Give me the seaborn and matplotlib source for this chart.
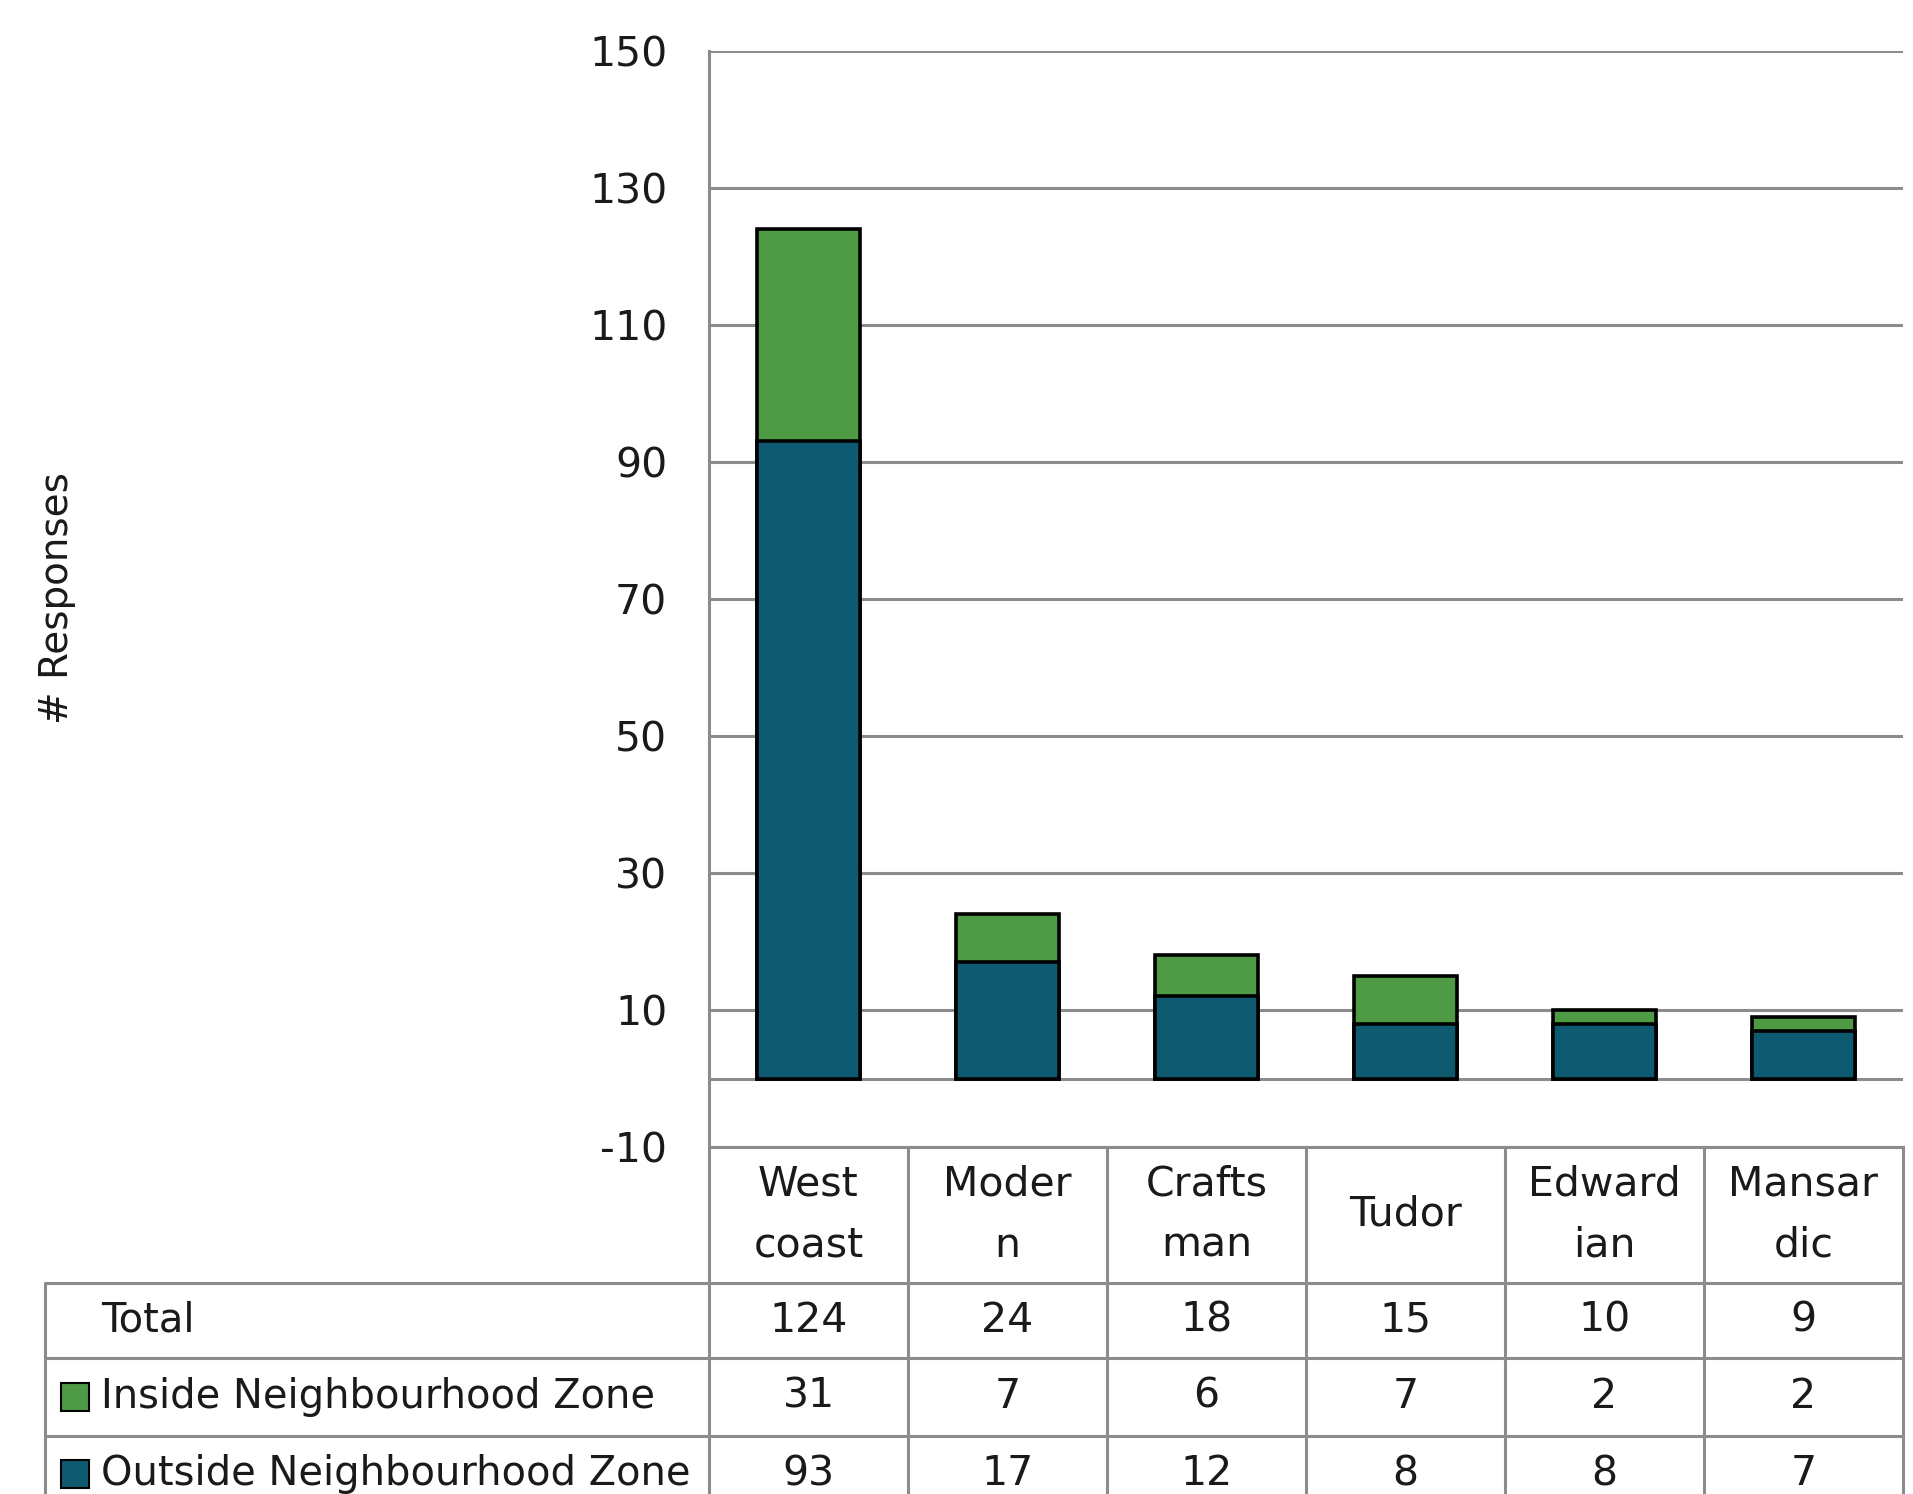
import numpy as np
import pandas as pd
import matplotlib
matplotlib.use("Agg")
import matplotlib.pyplot as plt
import seaborn as sns
from matplotlib.patches import Rectangle

# ------------------------------------------------------------
# Datos
# ------------------------------------------------------------
categories = ["West coast", "Modern", "Craftsman", "Tudor", "Edwardian", "Mansardic"]
header_labels = ["West\ncoast", "Moder\nn", "Crafts\nman", "Tudor", "Edward\nian", "Mansar\ndic"]
inside = [31, 7, 6, 7, 2, 2]
outside = [93, 17, 12, 8, 8, 7]
total = [124, 24, 18, 15, 10, 9]
row_labels = ["Total", "Inside Neighbourhood Zone", "Outside Neighbourhood Zone"]
yticks = [-10, 10, 30, 50, 70, 90, 110, 130, 150]

GREEN = "#4F9A45"
TEAL = "#0E5A70"
GRID = "#8C8C8C"
FS = 29.5
FS_ROW = 28.8

# ------------------------------------------------------------
# Layout (pixeles)
# ------------------------------------------------------------
W, H = 1913, 1494
X_LEFT, X_RIGHT = 709, 1903
Y_TOP, Y_BOT = 51, 1147
TABLE_LEFT = 45
HEADER_BOT = 1283
ROW_EDGES = [1283, 1358, 1436, 1512]

sns.set_theme(style="white")
plt.rcParams["font.family"] = ["DejaVu Sans"]
plt.rcParams["axes.unicode_minus"] = False

fig = plt.figure(figsize=(W / 100, H / 100), dpi=100)
ax = fig.add_axes([X_LEFT / W, 1 - Y_BOT / H, (X_RIGHT - X_LEFT) / W, (Y_BOT - Y_TOP) / H])

df = pd.DataFrame({"style": categories, "total": total, "outside": outside})

# barras apiladas: total (verde) y encima outside (azul)
sns.barplot(data=df, x="style", y="total", color=GREEN, saturation=1, width=0.52,
            edgecolor="black", linewidth=2.6, ax=ax, zorder=3)
sns.barplot(data=df, x="style", y="outside", color=TEAL, saturation=1, width=0.52,
            edgecolor="black", linewidth=2.6, ax=ax, zorder=4)

ax.set_xlim(-0.5, len(categories) - 0.5)
ax.set_ylim(-10, 150)
ax.set_yticks(yticks)
ax.set_xticks([])
ax.set_xlabel("")
ax.set_ylabel("")
ax.yaxis.grid(True, color=GRID, linewidth=2.2)
ax.axhline(0, color=GRID, linewidth=2.2, zorder=2)
ax.set_axisbelow(True)
ax.tick_params(axis="y", length=0, pad=30, labelsize=FS, labelcolor="#1a1a1a")
for s in ["top", "right"]:
    ax.spines[s].set_visible(False)
for s in ["left", "bottom"]:
    ax.spines[s].set_color(GRID)
    ax.spines[s].set_linewidth(2.2)

fig.text(57 / W, 1 - 598 / H, "# Responses", rotation=90, ha="center", va="center",
         fontsize=28, color="#1a1a1a")

# ------------------------------------------------------------
# Tabla de datos (estilo Excel)
# ------------------------------------------------------------
tab = fig.add_axes([0, 0, 1, 1], zorder=5)
tab.set_xlim(0, W)
tab.set_ylim(H, 0)
tab.axis("off")

col_edges = np.linspace(X_LEFT, X_RIGHT, len(categories) + 1)
col_centers = (col_edges[:-1] + col_edges[1:]) / 2

lw = 2.2
for x in col_edges:
    tab.plot([x, x], [Y_BOT, H], color=GRID, lw=lw)
tab.plot([TABLE_LEFT, TABLE_LEFT], [HEADER_BOT, H], color=GRID, lw=lw)
for y in ROW_EDGES[:-1]:
    tab.plot([TABLE_LEFT, X_RIGHT], [y, y], color=GRID, lw=lw)

for xc, lab in zip(col_centers, header_labels):
    tab.text(xc, (Y_BOT + HEADER_BOT) / 2, lab, ha="center", va="center",
             multialignment="center", fontsize=FS, linespacing=1.7, color="#1a1a1a")

rows = [total, inside, outside]
keys = [None, GREEN, TEAL]
for r, (lab, vals, key) in enumerate(zip(row_labels, rows, keys)):
    yc = (ROW_EDGES[r] + ROW_EDGES[r + 1]) / 2
    tab.text(101, yc, lab, ha="left", va="center", fontsize=FS_ROW, color="#1a1a1a")
    if key is not None:
        tab.add_patch(Rectangle((61, yc - 14), 28, 28, facecolor=key,
                                edgecolor="black", linewidth=1.5))
    for xc, v in zip(col_centers, vals):
        tab.text(xc, yc, str(v), ha="center", va="center", fontsize=FS, color="#1a1a1a")

fig.savefig("out.png", dpi=100, facecolor="white")
